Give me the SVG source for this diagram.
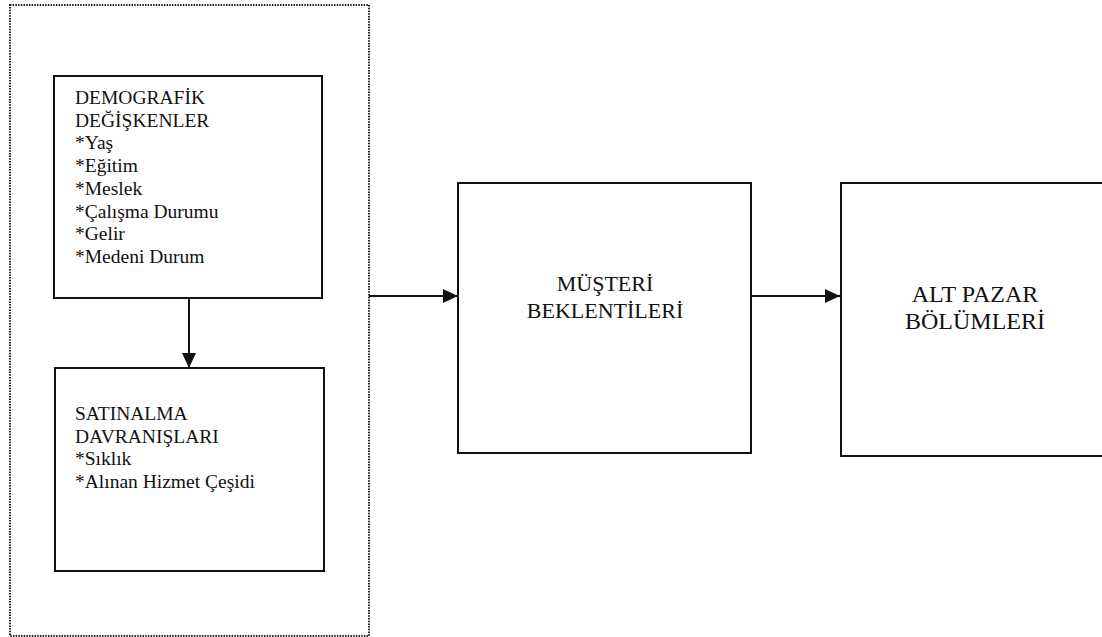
<svg xmlns="http://www.w3.org/2000/svg" width="1102" height="637" viewBox="0 0 1102 637">
<style>
.box{fill:#fff;stroke:#111;stroke-width:2}
.outer{fill:none;stroke:#222;stroke-width:2;stroke-dasharray:1.5 1.2}
.conn{stroke:#111;stroke-width:2;fill:none}
</style>
<defs>
<marker id="ah" markerWidth="15" markerHeight="14" refX="15" refY="7" orient="auto" markerUnits="userSpaceOnUse">
<path d="M0,0 L15,7 L0,14 Z" fill="#111"/>
</marker>
</defs>
<rect width="1102" height="637" fill="#fff"/>
<g id="outer-group">
<rect class="outer" x="10" y="5" width="359" height="631"/>
</g>
<g font-family="Liberation Serif, DejaVu Serif, serif" fill="#111">
<g id="demografik" font-size="19.5">
<rect class="box" x="54" y="76" width="268" height="222"/>
<text x="75" y="104">DEMOGRAFİK</text>
<text x="75" y="126.7">DEĞİŞKENLER</text>
<text x="75" y="149.4">*Yaş</text>
<text x="75" y="172.1">*Eğitim</text>
<text x="75" y="194.8">*Meslek</text>
<text x="75" y="217.5">*Çalışma Durumu</text>
<text x="75" y="240.2">*Gelir</text>
<text x="75" y="262.9">*Medeni Durum</text>
</g>
<g id="satinalma" font-size="19.5">
<rect class="box" x="55" y="368" width="269" height="203"/>
<text x="75" y="420">SATINALMA</text>
<text x="75" y="442.5">DAVRANIŞLARI</text>
<text x="75" y="465">*Sıklık</text>
<text x="75" y="487.5">*Alınan Hizmet Çeşidi</text>
</g>
<g id="musteri" font-size="22">
<rect class="box" x="458" y="183" width="293" height="270"/>
<text x="605" y="291" text-anchor="middle">MÜŞTERİ</text>
<text x="605" y="318" text-anchor="middle">BEKLENTİLERİ</text>
</g>
<g id="altpazar" font-size="24">
<rect class="box" x="841" y="183" width="270" height="273"/>
<text x="975" y="302" text-anchor="middle">ALT PAZAR</text>
<text x="975" y="329" text-anchor="middle">BÖLÜMLERİ</text>
</g>
</g>
<g id="connectors">
<line class="conn" x1="189" y1="298" x2="189" y2="368" marker-end="url(#ah)"/>
<line class="conn" x1="369" y1="296" x2="458" y2="296" marker-end="url(#ah)"/>
<line class="conn" x1="751" y1="296" x2="840" y2="296" marker-end="url(#ah)"/>
</g>
</svg>
